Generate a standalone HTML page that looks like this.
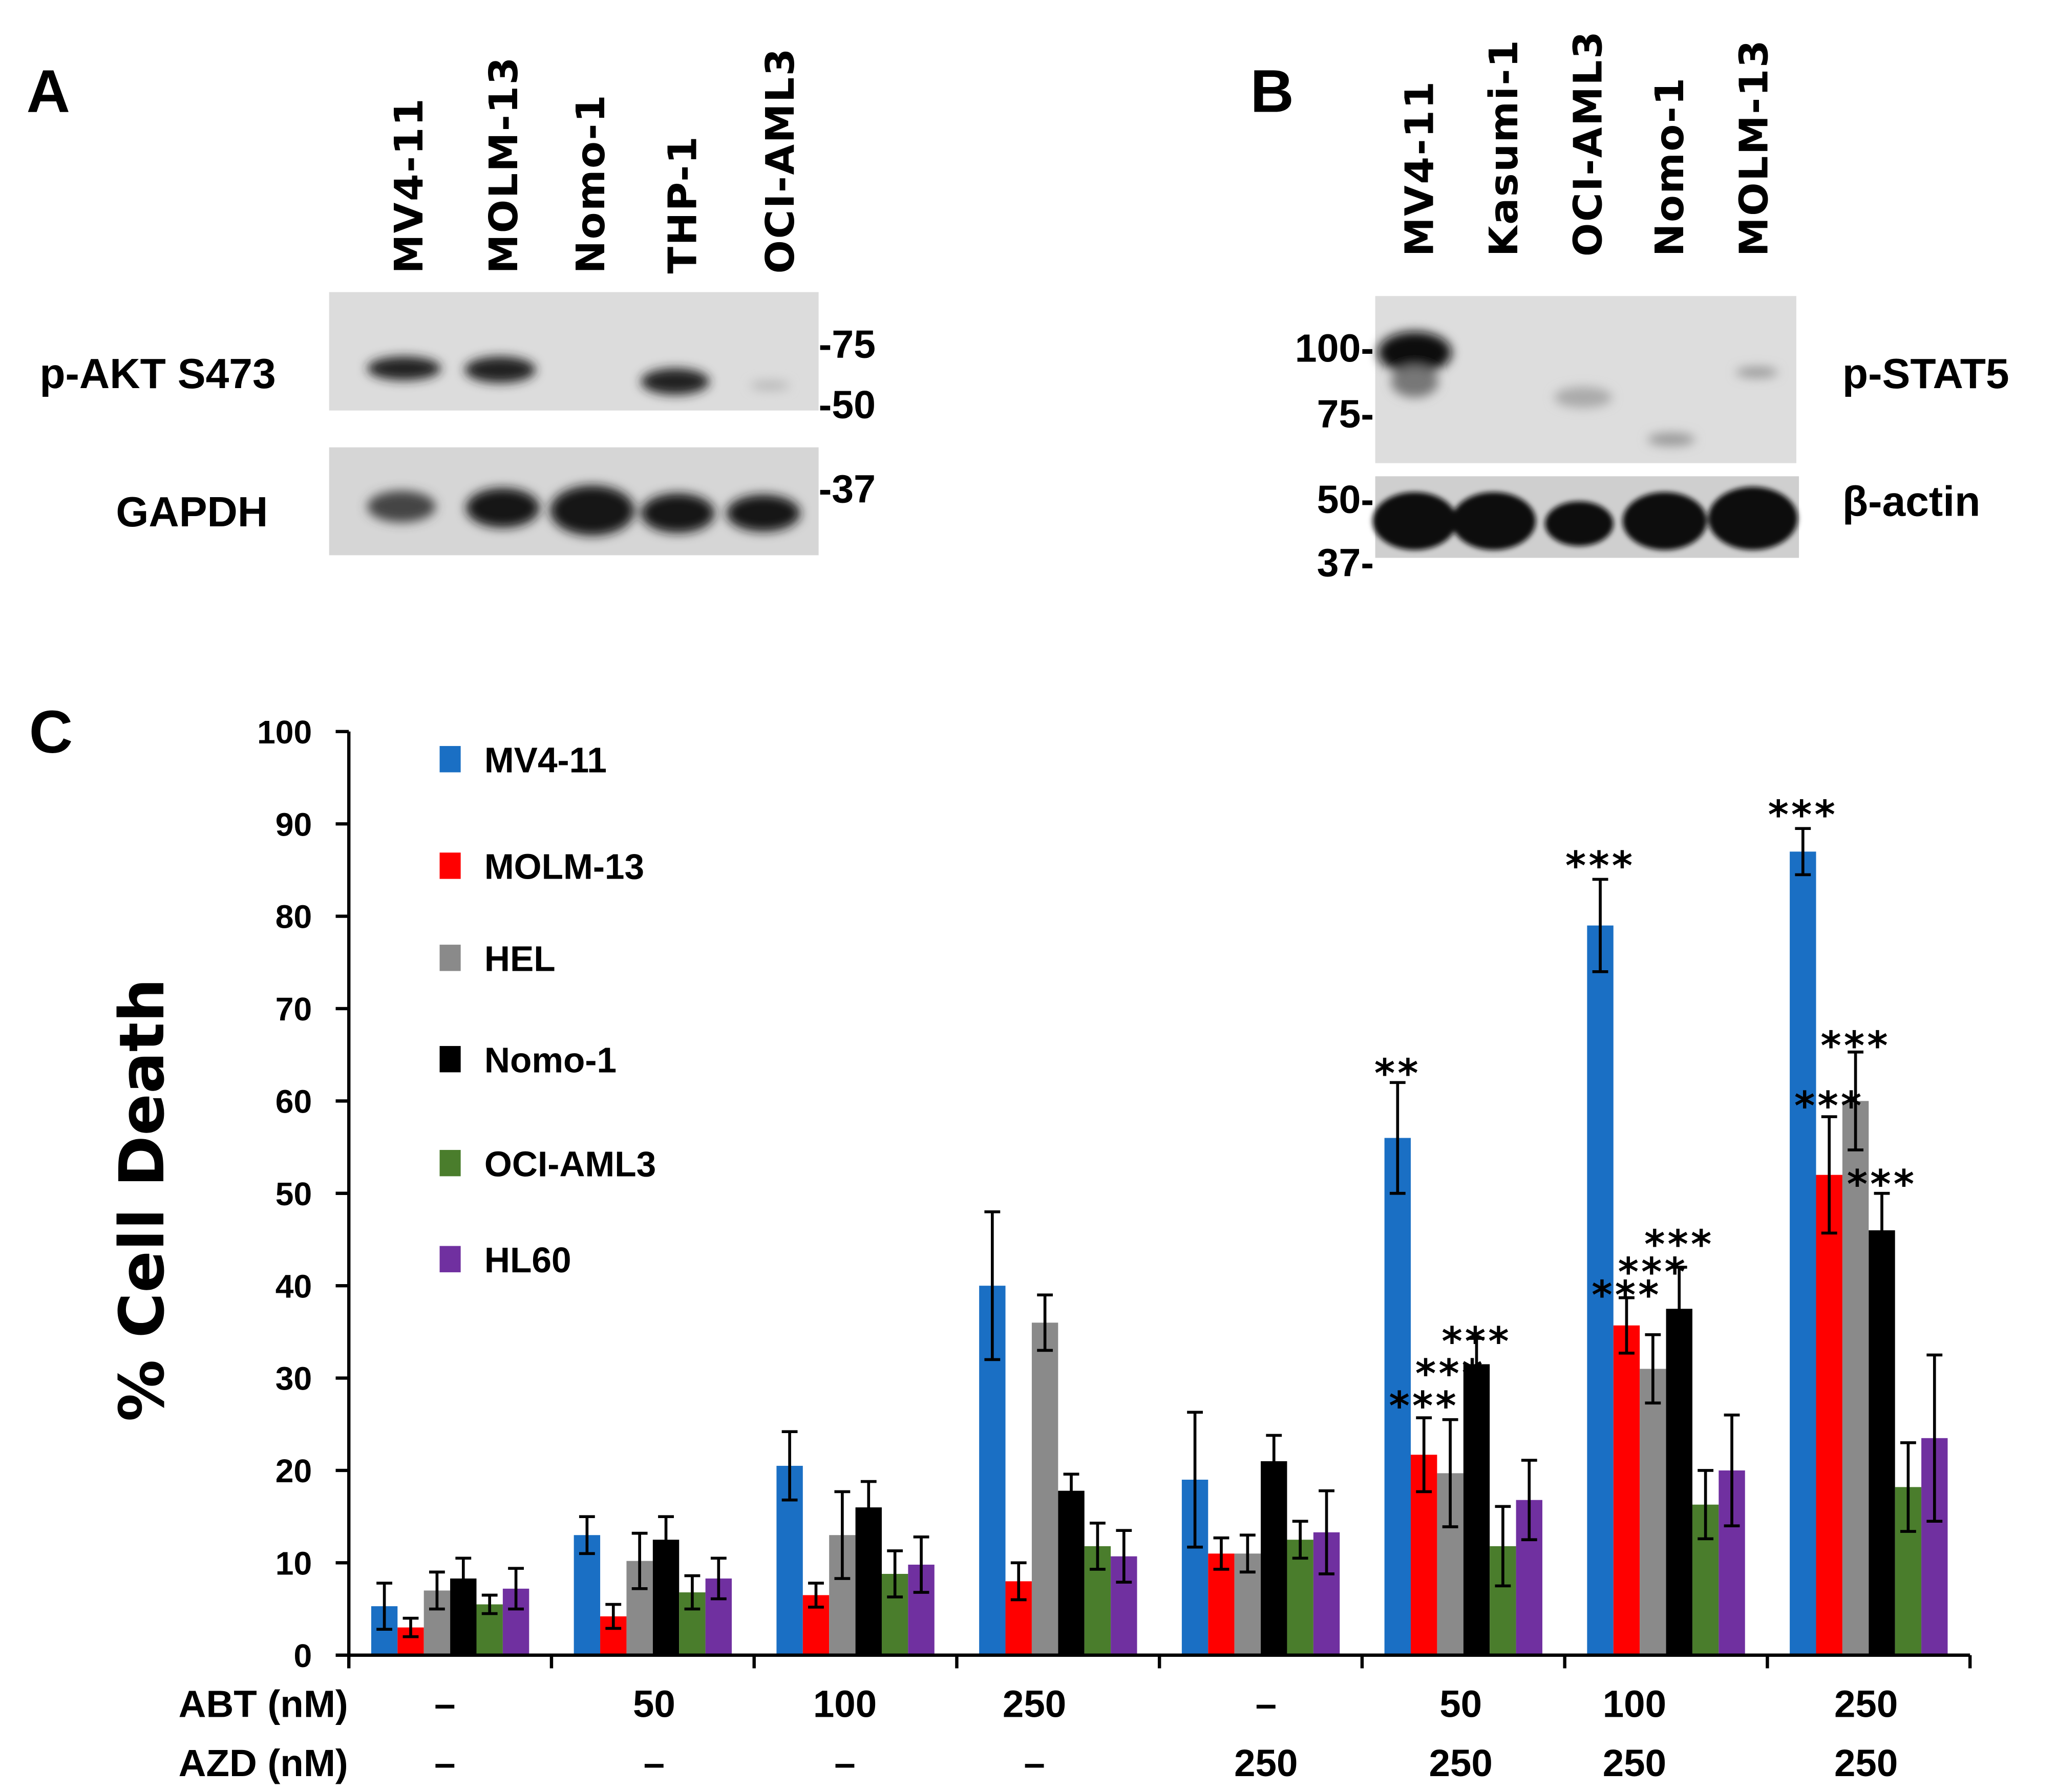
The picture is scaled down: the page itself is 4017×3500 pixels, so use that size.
<!DOCTYPE html>
<html><head><meta charset="utf-8">
<style>
html,body{margin:0;padding:0;background:#fff;}
svg{display:block;}
.b{font-family:"DejaVu Sans","Liberation Sans",sans-serif;font-weight:bold;}
.c{font-family:"Liberation Sans",sans-serif;font-weight:bold;}
</style></head>
<body>
<svg id="fig" width="4017" height="3500" viewBox="0 0 1563 1362" xmlns="http://www.w3.org/2000/svg">
<defs>
<filter id="blur" x="-50%" y="-50%" width="200%" height="200%"><feGaussianBlur stdDeviation="4"/></filter>
<filter id="blur2" x="-50%" y="-50%" width="200%" height="200%"><feGaussianBlur stdDeviation="2"/></filter>
</defs>
<!-- Panel A -->
<g>
<text class="c" x="20" y="85" font-size="46">A</text>
<g class="b" font-size="30" letter-spacing="1">
<text transform="translate(321,208) rotate(-90)">MV4-11</text>
<text transform="translate(393,208) rotate(-90)">MOLM-13</text>
<text transform="translate(459,208) rotate(-90)">Nomo-1</text>
<text transform="translate(529,208) rotate(-90)">THP-1</text>
<text transform="translate(603,208) rotate(-90)">OCI-AML3</text>
</g>
<rect x="250" y="222" width="372" height="90" fill="#dcdcdc"/>
<g filter="url(#blur)" fill="#222">
<ellipse cx="307" cy="280" rx="28" ry="9"/>
<ellipse cx="380" cy="281" rx="27" ry="10"/>
<ellipse cx="513" cy="290" rx="26" ry="10"/>
<ellipse cx="585" cy="293" rx="15" ry="4" fill="#bbb"/>
</g>
<rect x="250" y="340" width="372" height="82" fill="#d6d6d6"/>
<g filter="url(#blur)" fill="#151515">
<ellipse cx="305" cy="385" rx="26" ry="12" fill="#444"/>
<ellipse cx="382" cy="386" rx="28" ry="15"/>
<ellipse cx="450" cy="388" rx="32" ry="19"/>
<ellipse cx="515" cy="390" rx="28" ry="15"/>
<ellipse cx="580" cy="390" rx="28" ry="14"/>
</g>
<text class="c" x="30" y="295" font-size="32">p-AKT S473</text>
<text class="c" x="88" y="400" font-size="32">GAPDH</text>
<g class="c" font-size="30">
<text x="622" y="272">-75</text>
<text x="622" y="318">-50</text>
<text x="622" y="382">-37</text>
</g>
</g>
<!-- Panel B -->
<g>
<text class="c" x="950" y="85" font-size="46">B</text>
<g class="b" font-size="30" letter-spacing="1">
<text transform="translate(1089,195) rotate(-90)">MV4-11</text>
<text transform="translate(1153,195) rotate(-90)">Kasumi-1</text>
<text transform="translate(1217,195) rotate(-90)">OCI-AML3</text>
<text transform="translate(1279,195) rotate(-90)">Nomo-1</text>
<text transform="translate(1343,195) rotate(-90)">MOLM-13</text>
</g>
<rect x="1045" y="225" width="320" height="127" fill="#dddddd"/>
<g filter="url(#blur)">
<ellipse cx="1075" cy="268" rx="28" ry="16" fill="#111"/>
<ellipse cx="1075" cy="290" rx="18" ry="12" fill="#777"/>
<ellipse cx="1203" cy="302" rx="22" ry="8" fill="#aaa"/>
<ellipse cx="1270" cy="334" rx="18" ry="5" fill="#999"/>
<ellipse cx="1335" cy="283" rx="16" ry="4" fill="#999"/>
</g>
<rect x="1045" y="362" width="322" height="62" fill="#cfcfcf"/>
<g filter="url(#blur2)" fill="#111">
<ellipse cx="1075" cy="396" rx="32" ry="22"/>
<ellipse cx="1135" cy="396" rx="32" ry="22"/>
<ellipse cx="1200" cy="398" rx="26" ry="17"/>
<ellipse cx="1265" cy="396" rx="32" ry="22"/>
<ellipse cx="1332" cy="394" rx="34" ry="24"/>
</g>
<g class="c" font-size="30" text-anchor="end">
<text x="1044" y="275">100-</text>
<text x="1044" y="325">75-</text>
<text x="1044" y="390">50-</text>
<text x="1044" y="438">37-</text>
</g>
<text class="c" x="1400" y="295" font-size="32">p-STAT5</text>
<text class="c" x="1400" y="392" font-size="32">β-actin</text>
</g>
<!-- Panel C -->
<g id="chart">
<text class="c" x="22" y="572" font-size="46">C</text>
<text class="b" transform="translate(124,912) rotate(-90)" text-anchor="middle" font-size="47">% Cell Death</text>
</g>
</svg>
<script>
const categories = ["ABT- AZD-","ABT50","ABT100","ABT250","AZD250","ABT50+AZD250","ABT100+AZD250","ABT250+AZD250"];
const abtLabels = ["–","50","100","250","–","50","100","250"];
const azdLabels = ["–","–","–","–","250","250","250","250"];
const seriesNames = ["MV4-11","MOLM-13","HEL","Nomo-1","OCI-AML3","HL60"];
const mv411 = [5.3,13,20.5,40,19,56,79,87];
const mv411Err = [2.5,2,3.7,8,7.3,6,5,2.5];
const molm13 = [3,4.2,6.5,8,11,21.7,35.7,52];
const molm13Err = [1,1.3,1.3,2,1.7,4,3,6.3];
const hel = [7,10.2,13,36,11,19.7,31,60];
const helErr = [2,3,4.7,3,2,5.8,3.7,5.3];
const nomo1 = [8.3,12.5,16,17.8,21,31.5,37.5,46];
const nomo1Err = [2.2,2.5,2.8,1.8,2.8,2.8,4.5,4];
const ociaml3 = [5.5,6.8,8.8,11.8,12.5,11.8,16.3,18.2];
const ociaml3Err = [1,1.8,2.5,2.5,2,4.3,3.7,4.8];
const hl60 = [7.2,8.3,9.8,10.7,13.3,16.8,20,23.5];
const hl60Err = [2.2,2.2,3,2.8,4.5,4.3,6,9];
const yTicks = [0,10,20,30,40,50,60,70,80,90,100];
const sigGroup = [5,5,5,5,6,6,6,6,7,7,7,7];
const sigSeries = [0,1,2,3,0,1,2,3,0,1,2,3];
const sigText = ["**","***","***","***","***","***","***","***","***","***","***","***"];
const sigValue = [63.5,27.5,31,34.5,86,39.5,42,45,91.5,60,66.5,51.5];

const series = [mv411,molm13,hel,nomo1,ociaml3,hl60];
const errs = [mv411Err,molm13Err,helErr,nomo1Err,ociaml3Err,hl60Err];
const colors = ["#1a6fc4","#ff0000","#8a8a8a","#000000","#4a7d2c","#7030a0"];
const NS="http://www.w3.org/2000/svg";
const g=document.getElementById('chart');
const X0=265,X1=1497,Y0=1258,Y100=556;
const gw=(X1-X0)/categories.length, bw=20, pad=(gw-bw*6)/2;
function y(v){return Y0-(Y0-Y100)*v/100;}
function xb(gi,si){return X0+gi*gw+pad+si*bw;}
function el(t,a){const e=document.createElementNS(NS,t);for(const k in a)e.setAttribute(k,a[k]);g.appendChild(e);return e;}
series.forEach((s,si)=>{s.forEach((v,gi)=>{
 const r=el('rect',{x:xb(gi,si),y:y(v),width:bw,height:Y0-y(v),fill:colors[si]});
 
 
 const cx=xb(gi,si)+bw/2,e=errs[si][gi];
 const p=el('path',{d:`M${cx} ${y(v-e)}V${y(v+e)}M${cx-6} ${y(v+e)}H${cx+6}M${cx-6} ${y(v-e)}H${cx+6}`,stroke:'#000','stroke-width':2.2,fill:'none'});
 
 
});});
const ax=el('path',{d:`M${X0} ${Y100}V${Y0}H${X1}`,stroke:'#000','stroke-width':2.5,fill:'none'});


yTicks.forEach(t=>{
 el('path',{d:`M${X0-10} ${y(t)}H${X0}`,stroke:'#000','stroke-width':2.5});
 const tx=el('text',{x:237,y:y(t)+9,'text-anchor':'end','font-size':25,class:'c'});tx.textContent=t;
 
 
});
for(let i=0;i<=categories.length;i++){el('path',{d:`M${X0+i*gw} ${Y0}V${Y0+10}`,stroke:'#000','stroke-width':2.5});}
const abtX=[338,497,642,786,962,1110,1242,1418];
function lab(txt,xx,yy,name){const t=el('text',{x:xx,y:yy,'text-anchor':'middle','font-size':29,class:'c'});t.textContent=txt;
 
 }
lab('ABT (nM)',200,1305,'abt-row-title');lab('AZD (nM)',200,1350,'azd-row-title');
abtLabels.forEach((s,i)=>lab(s,abtX[i],1305,'abt-dose-label'));
azdLabels.forEach((s,i)=>lab(s,abtX[i],1350,'azd-dose-label'));
sigText.forEach((s,i)=>{const t=el('text',{x:xb(sigGroup[i],sigSeries[i])+bw/2,y:y(sigValue[i])+14,'text-anchor':'middle','font-size':30,class:'b','letter-spacing':'2'});t.textContent=s;
 
 });
const legY=[577,658,728,805,884,957];
seriesNames.forEach((n,i)=>{
 const r=el('rect',{x:334,y:legY[i]-10,width:16,height:20,fill:colors[i]});
 
 
 const t=el('text',{x:368,y:legY[i]+10,'font-size':27,class:'c'});t.textContent=n;
 
 
});
</script>
</body></html>
